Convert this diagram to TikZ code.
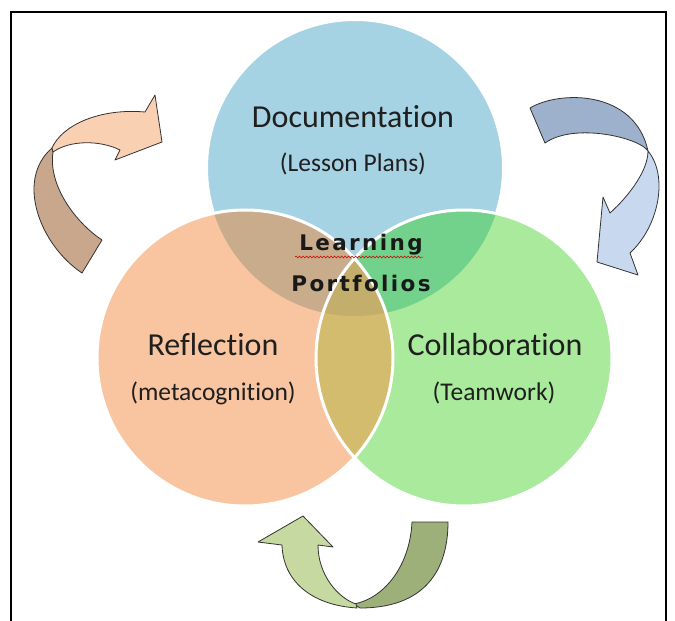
\documentclass[tikz,border=0pt]{standalone}
\usepackage{fontspec}
\setmainfont{Carlito}[Ligatures=NoCommon]
\newfontfamily\lpfont{DejaVu Sans}[LetterSpace=11,Ligatures=NoCommon]
\usetikzlibrary{decorations.pathmorphing}
\definecolor{cblue}{HTML}{A6D3E3}
\definecolor{corange}{HTML}{F8C5A0}
\definecolor{cgreen}{HTML}{A9EA9D}
\definecolor{cbo}{HTML}{C8AC8C}
\definecolor{cbg}{HTML}{72D18A}
\definecolor{cog}{HTML}{D4BC6E}
\definecolor{cbog}{HTML}{C4AE6C}
\definecolor{tllight}{HTML}{FAD0B2}
\definecolor{tldark}{HTML}{C9A78C}
\definecolor{trdark}{HTML}{9EB1CC}
\definecolor{trlight}{HTML}{C8D8EE}
\definecolor{bglight}{HTML}{C6D9A0}
\definecolor{bgdark}{HTML}{9DB07A}
\definecolor{txt}{HTML}{1F1F1F}
\begin{document}
\begin{tikzpicture}[x=1pt,y=-1pt,
  framestyle/.style={draw=black, line width=2.2pt},
  ring/.style={draw=white, line width=3pt},
  arrowpart/.style={draw=black!80, line width=0.8pt, line join=round},
  mainlabel/.style={font=\fontsize{32}{36}\selectfont, text=txt, anchor=base, inner sep=0pt},
  sublabel/.style={font=\fontsize{25.5}{30}\selectfont, text=txt, anchor=base, inner sep=0pt},
  centrelabel/.style={font=\lpfont\bfseries\fontsize{21.5}{26}\selectfont, text=black!90, anchor=base, inner sep=0pt},
  squiggle/.style={draw=red!80!black, line width=0.5pt, decorate, decoration={snake, amplitude=1pt, segment length=3.5pt}}]
\useasboundingbox (0,0) rectangle (675,621);
\fill[white] (0,0) rectangle (675,621);
% frame
\coordinate (f1) at (11,621);
\coordinate (f2) at (11,12);
\coordinate (f3) at (666,12);
\coordinate (f4) at (666,621);
\draw[framestyle] (f1) -- (f2) -- (f3) -- (f4);
% circles
\coordinate (cb) at (355,168);
\coordinate (co) at (245,358);
\coordinate (cg) at (464,358);
\fill[cblue] (cb) circle[radius=148pt];
\draw[white, line width=2pt] (cb) circle[radius=148pt];
\fill[corange] (co) circle[radius=148pt];
\fill[cgreen] (cg) circle[radius=148pt];
\begin{scope}
  \clip (cb) circle[radius=148pt];
  \fill[cbo] (co) circle[radius=148pt];
  \fill[cbg] (cg) circle[radius=148pt];
\end{scope}
\begin{scope}
  \clip (co) circle[radius=148pt];
  \fill[cog] (cg) circle[radius=148pt];
  \clip (cb) circle[radius=148pt];
  \fill[cbog] (cg) circle[radius=148pt];
\end{scope}
\draw[ring] (co) circle[radius=148pt];
\draw[ring] (cg) circle[radius=148pt];
% labels
\node[mainlabel] (doc) at (353,127) {Documentation};
\node[sublabel] (docsub) at (353,171) {(Lesson Plans)};
\node[mainlabel] (refl) at (213,355) {Reflection};
\node[sublabel] (reflsub) at (213,400) {(metacognition)};
\node[mainlabel] (coll) at (495,355) {Collaboration};
\node[sublabel] (collsub) at (494,400) {(Teamwork)};
\node[centrelabel] (learn) at (361,250) {Learning};
\node[centrelabel] (port) at (361,291) {Portfolios};
\coordinate (sq1) at (295,257);
\coordinate (sq2) at (423,257);
\draw[squiggle] (sq1) -- (sq2);
% top-left arrow
\filldraw[arrowpart, fill=tldark] (82,273) .. controls (40,245) and (15,180) .. (52,148) -- (53,152) .. controls (48,185) and (75,222) .. (102,240) -- cycle;
\filldraw[arrowpart, fill=tllight] (52,148) .. controls (62,125) and (100,108) .. (145,112) -- (155,95) -- (162,142) -- (115,160) -- (120,150) .. controls (100,140) and (70,140) .. (53,152) -- cycle;
% top-right arrow
\filldraw[arrowpart, fill=trdark] (530,108) .. controls (560,90) and (635,90) .. (648,151) .. controls (640,138) and (575,122) .. (545,143) -- cycle;
\filldraw[arrowpart, fill=trlight] (648,151) .. controls (668,175) and (660,225) .. (630,253) -- (638,275) -- (597,262) -- (603,197) -- (610,213) .. controls (630,195) and (648,170) .. (648,151) -- cycle;
% bottom arrow
\filldraw[arrowpart, fill=bgdark] (412,522) -- (448,522) .. controls (448,570) and (425,608) .. (360,608) -- (354,604) .. controls (385,598) and (410,565) .. (412,522) -- cycle;
\filldraw[arrowpart, fill=bglight] (318,545) -- (333,547) -- (303,516) -- (258,542) -- (282,545) .. controls (283,580) and (310,605) .. (357,608) -- (356,604) .. controls (338,598) and (318,575) .. (318,545) -- cycle;
\end{tikzpicture}
\end{document}
